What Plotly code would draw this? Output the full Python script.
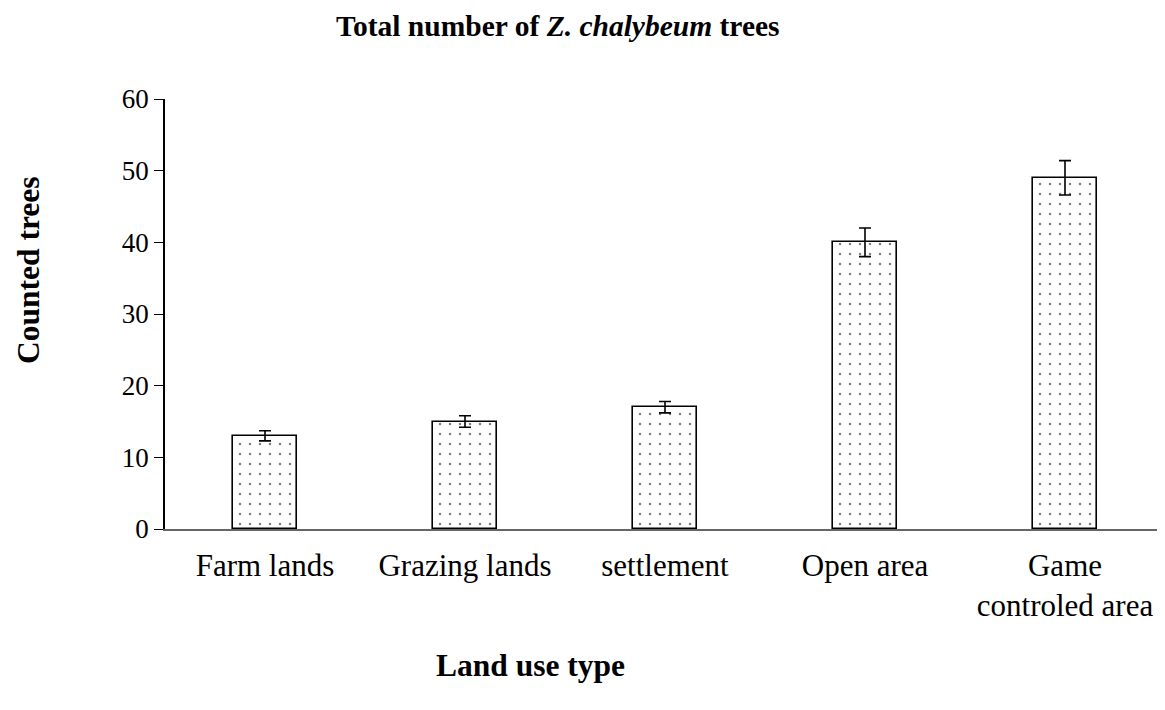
import plotly.graph_objects as go

categories = ["Farm lands", "Grazing lands", "settlement", "Open area", "Game<br>controled area"]
counts = [13, 15, 17, 40, 49]
errors = [0.7, 0.8, 0.8, 2.0, 2.4]
y_ticks = [0, 10, 20, 30, 40, 50, 60]

FONT = "Liberation Serif, Times New Roman, serif"

# page has an 8px body margin; layout numbers below compensate for it
OFF = 8
W, H = 1165, 710
l, r, t = 165 - OFF, OFF, 99 - OFF
ph = 430
b = H - t - ph
pw = W - l - r

fig = go.Figure(go.Bar(
    x=categories, y=counts, width=0.32,
    marker=dict(color="white", line=dict(color="black", width=1.6),
                pattern=dict(shape=".", fgcolor="black", bgcolor="white", size=10, solidity=0.05)),
    error_y=dict(type="data", array=errors, visible=True, color="black", thickness=1.6, width=6),
))


def pos(cx, cy):
    return (cx - OFF - l) / pw, (H - b - (cy - OFF)) / ph


tx, ty = pos(558, 26)
xx, xy = pos(530, 665)
yx, yy = pos(28, 270)

fig.update_layout(
    width=W, height=H,
    margin=dict(l=l, r=r, t=t, b=b),
    plot_bgcolor="white", paper_bgcolor="white",
    font=dict(family=FONT, size=21, color="black"),
    showlegend=False,
    bargap=0,
    xaxis=dict(showline=True, linecolor="#666", linewidth=1.5, ticks="", showgrid=False,
               range=[-0.5, 4.5], tickfont=dict(size=31), ticklabelstandoff=8),
    yaxis=dict(showline=True, linecolor="black", linewidth=1.5, ticks="outside", ticklen=9,
               tickcolor="black", tickvals=y_ticks, range=[0, 60], showgrid=False, zeroline=False,
               tickfont=dict(size=27), ticklabelstandoff=0),
    annotations=[
        dict(text="<b>Total number of <i>Z. chalybeum</i> trees</b>", x=tx, y=ty,
             xref="paper", yref="paper", xanchor="center", yanchor="middle", showarrow=False,
             font=dict(size=29.5)),
        dict(text="<b>Land use type</b>", xref="paper", yref="paper", x=xx, y=xy,
             xanchor="center", yanchor="middle", showarrow=False, font=dict(size=31.5)),
        dict(text="<b>Counted trees</b>", xref="paper", yref="paper", x=yx, y=yy,
             xanchor="center", yanchor="middle", showarrow=False, textangle=-90,
             font=dict(size=31.5), borderpad=0),
    ],
)

fig.write_html("out.html")
